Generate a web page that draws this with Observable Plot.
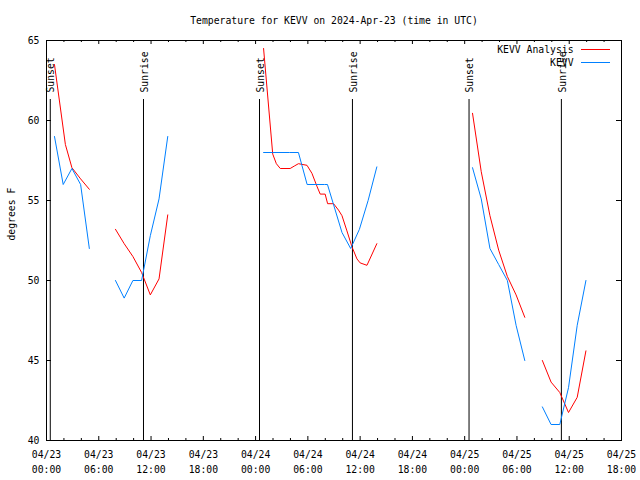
<!DOCTYPE html>
<html><head><meta charset="utf-8">
<script src="https://cdn.jsdelivr.net/npm/d3@7"></script>
<script src="https://cdn.jsdelivr.net/npm/@observablehq/plot@0.6"></script>
<style>body{margin:0;background:#fff}</style>
</head><body><div id="chart"></div>
<script>
const title = "Temperature for KEVV on 2024-Apr-23 (time in UTC)";
const yLabel = "degrees F";
const seriesNames = ["KEVV Analysis", "KEVV"];
const seriesColors = ["#ff0000", "#0080ff"];

// KEVV Analysis (red); null = gap
const analysisTime = [
  "2024-04-23T00:55Z","2024-04-23T02:10Z","2024-04-23T02:55Z","2024-04-23T03:55Z","2024-04-23T04:55Z", null,
  "2024-04-23T07:55Z","2024-04-23T08:55Z","2024-04-23T09:55Z","2024-04-23T10:55Z","2024-04-23T11:55Z","2024-04-23T12:55Z","2024-04-23T13:55Z", null,
  "2024-04-24T00:55Z","2024-04-24T01:58Z","2024-04-24T02:23Z","2024-04-24T02:50Z","2024-04-24T03:58Z","2024-04-24T04:26Z","2024-04-24T04:55Z",
  "2024-04-24T05:54Z","2024-04-24T06:28Z","2024-04-24T07:02Z","2024-04-24T07:25Z","2024-04-24T07:59Z","2024-04-24T08:16Z","2024-04-24T08:57Z",
  "2024-04-24T09:31Z","2024-04-24T09:55Z","2024-04-24T10:29Z","2024-04-24T11:04Z","2024-04-24T11:38Z","2024-04-24T12:00Z","2024-04-24T12:47Z","2024-04-24T13:55Z", null,
  "2024-04-25T00:54Z","2024-04-25T01:54Z","2024-04-25T02:54Z","2024-04-25T03:54Z","2024-04-25T04:54Z","2024-04-25T05:54Z","2024-04-25T06:54Z", null,
  "2024-04-25T08:55Z","2024-04-25T09:55Z","2024-04-25T10:55Z","2024-04-25T11:55Z","2024-04-25T12:55Z","2024-04-25T13:55Z"
];
const analysisTemp = [
  63.5, 58.5, 57.05, 56.35, 55.7, null,
  53.2, 52.3, 51.5, 50.5, 49.1, 50.1, 54.1, null,
  64.5, 57.9, 57.3, 57.0, 57.0, 57.15, 57.3,
  57.2, 56.7, 55.9, 55.4, 55.4, 54.8, 54.8,
  54.4, 54.05, 53.1, 52.1, 51.35, 51.1, 50.95, 52.3, null,
  60.45, 56.8, 54.05, 51.9, 50.25, 49.1, 47.7, null,
  45.0, 43.65, 43.0, 41.75, 42.7, 45.6
];

// KEVV observations (blue); null = gap
const obsTime = [
  "2024-04-23T00:55Z","2024-04-23T01:55Z","2024-04-23T02:55Z","2024-04-23T03:55Z","2024-04-23T04:55Z", null,
  "2024-04-23T07:55Z","2024-04-23T08:55Z","2024-04-23T09:55Z","2024-04-23T10:55Z","2024-04-23T11:55Z","2024-04-23T12:55Z","2024-04-23T13:55Z", null,
  "2024-04-24T00:55Z","2024-04-24T01:55Z","2024-04-24T02:55Z","2024-04-24T03:55Z","2024-04-24T04:55Z","2024-04-24T05:55Z","2024-04-24T06:55Z",
  "2024-04-24T07:55Z","2024-04-24T08:15Z","2024-04-24T08:55Z","2024-04-24T09:55Z","2024-04-24T10:55Z","2024-04-24T11:55Z","2024-04-24T12:55Z","2024-04-24T13:55Z", null,
  "2024-04-25T00:54Z","2024-04-25T01:54Z","2024-04-25T02:54Z","2024-04-25T03:54Z","2024-04-25T04:54Z","2024-04-25T05:54Z","2024-04-25T06:54Z", null,
  "2024-04-25T08:55Z","2024-04-25T09:55Z","2024-04-25T10:55Z","2024-04-25T11:55Z","2024-04-25T12:55Z","2024-04-25T13:55Z"
];
const obsTemp = [
  59, 56, 57, 56, 52, null,
  50, 48.9, 50, 50, 52.8, 55.1, 59, null,
  58, 58, 58, 58, 58, 56, 56,
  56, 56, 54.8, 53, 52, 53.2, 55, 57.1, null,
  57.05, 55.1, 52, 51, 50, 47.2, 45, null,
  42.1, 41, 41, 43.3, 47.2, 50
];

const sunTime = ["2024-04-23T00:26Z","2024-04-23T11:08Z","2024-04-24T00:27Z","2024-04-24T11:07Z","2024-04-25T00:30Z","2024-04-25T11:06Z"];
const sunLabel = ["Sunset","Sunrise","Sunset","Sunrise","Sunset","Sunrise"];

const yTicks = [40, 45, 50, 55, 60, 65];
const xStart = "2024-04-23T00:00Z";
const xEnd = "2024-04-25T18:00Z";

// tables
const analysis = analysisTime.map((t, i) => ({time: t ? new Date(t) : null, temp: analysisTemp[i]}));
const obs = obsTime.map((t, i) => ({time: t ? new Date(t) : null, temp: obsTemp[i]}));
const sun = sunTime.map((t, i) => ({time: new Date(t), label: sunLabel[i]}));
const x0 = new Date(xStart), x1 = new Date(xEnd);
const majorTicks = d3.utcHour.every(6).range(x0, new Date(+x1 + 1));
const minorTicks = d3.utcHour.every(2).range(x0, new Date(+x1 + 1)).filter(d => d.getUTCHours() % 6 !== 0);
const fmt = d3.utcFormat("%m/%d\n%H:%M");

const FONT = "DejaVu Sans Mono";
const FS = 9.75;
const FRAME_H = 400, FRAME_W = 575;

const legend = (index, scales, values, dims) => {
  const g = d3.create("svg:g").attr("font-family", FONT).attr("font-size", FS);
  const xr = dims.width - dims.marginRight;
  seriesNames.forEach((name, i) => {
    const yy = dims.marginTop + 9.5 + i * 13;
    g.append("text").attr("x", xr - 47.5).attr("y", yy).attr("dy", "0.35em")
      .attr("text-anchor", "end").attr("fill", "black").text(name);
    g.append("line").attr("x1", xr - 40).attr("x2", xr - 11).attr("y1", yy).attr("y2", yy)
      .attr("stroke", seriesColors[i]).attr("stroke-width", 1);
  });
  return g.node();
};

const chart = Plot.plot({
  width: 640,
  height: 480,
  marginLeft: 46,
  marginRight: 19,
  marginTop: 40,
  marginBottom: 40,
  style: {fontFamily: FONT, fontSize: FS + "px", background: "white", color: "black"},
  x: {type: "utc", domain: [x0, x1]},
  y: {domain: [40, 65]},
  marks: [
    Plot.ruleX(sun, {x: "time", insetTop: 59, stroke: "black"}),
    Plot.text(sun, {x: "time", text: "label", frameAnchor: "top", dy: 52, dx: 1, rotate: -90, textAnchor: "start", lineAnchor: "middle", fill: "black"}),
    Plot.line(analysis, {x: "time", y: "temp", stroke: seriesColors[0], strokeWidth: 1}),
    Plot.line(obs, {x: "time", y: "temp", stroke: seriesColors[1], strokeWidth: 1}),
    // inward ticks
    Plot.ruleX(majorTicks, {x: d => d, insetTop: FRAME_H - 4, stroke: "black"}),
    Plot.ruleX(majorTicks, {x: d => d, insetBottom: FRAME_H - 4, stroke: "black"}),
    Plot.ruleX(minorTicks, {x: d => d, insetTop: FRAME_H - 2, stroke: "black"}),
    Plot.ruleX(minorTicks, {x: d => d, insetBottom: FRAME_H - 2, stroke: "black"}),
    Plot.ruleY(yTicks, {y: d => d, insetRight: FRAME_W - 5, stroke: "black"}),
    Plot.ruleY(yTicks, {y: d => d, insetLeft: FRAME_W - 5, stroke: "black"}),
    Plot.frame({stroke: "black"}),
    Plot.axisX({ticks: majorTicks, tickSize: 0, tickPadding: 8, tickFormat: fmt, lineHeight: 1.44, label: null, fill: "black"}),
    Plot.axisY({ticks: yTicks, tickSize: 0, tickPadding: 7, label: null, fill: "black"}),
    Plot.text([title], {frameAnchor: "top", dy: -20, lineAnchor: "middle", fill: "black"}),
    Plot.text([yLabel], {frameAnchor: "left", dx: -35, rotate: -90, lineAnchor: "middle", fill: "black"}),
    legend
  ]
});
document.getElementById("chart").append(chart);
</script>
</body></html>
